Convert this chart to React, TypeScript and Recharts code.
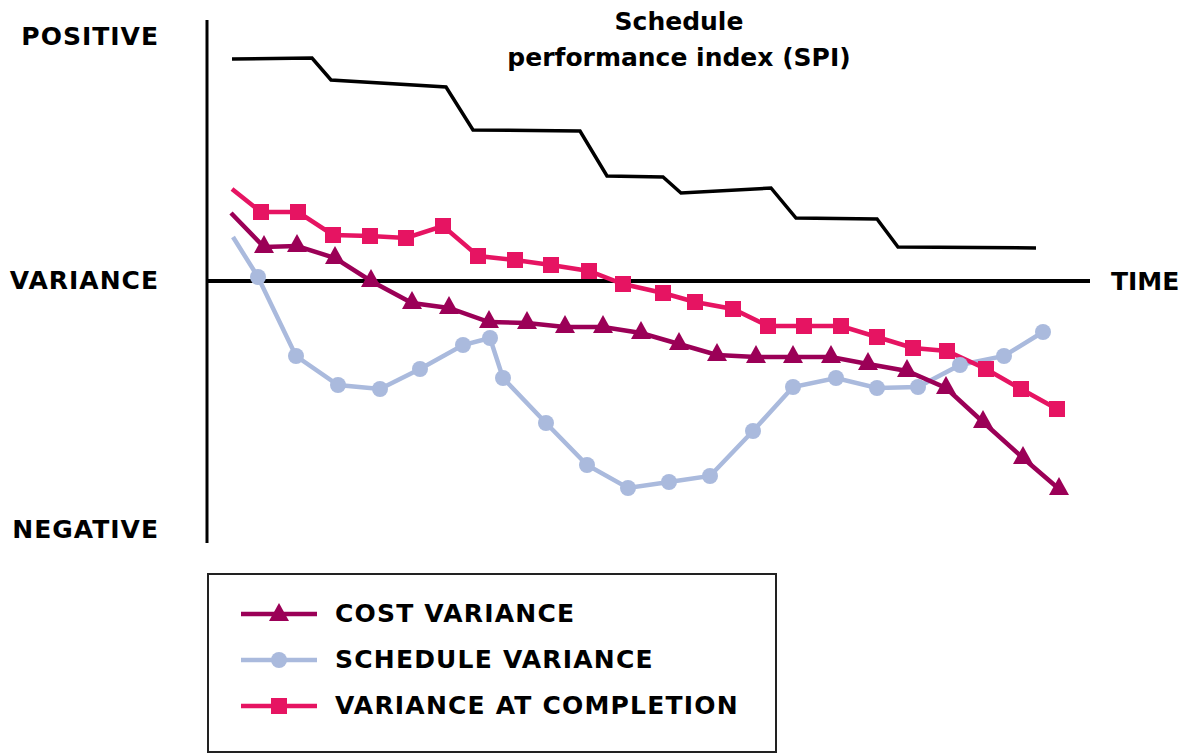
import { ComposedChart, Line, XAxis, YAxis, ReferenceLine } from "recharts";

// time positions (arbitrary units from the origin) and variance readings
const spiTime = [25, 105, 124, 239, 266, 373, 400, 456, 474, 564, 589, 670, 691, 829];
const spiValue = [222, 223, 201, 194, 151, 150, 105, 104, 88, 93, 63, 62, 34, 33];

const cvTime = [24, 57, 90, 128, 164, 205, 242, 282, 320, 358, 396, 434, 472, 510, 549, 586, 624, 661, 700, 739, 776, 816, 852];
const cvValue = [68, 34, 35, 23, 0, -22, -27, -41, -42, -46, -46, -52, -63, -74, -76, -76, -76, -83, -90, -107, -141, -177, -208];

const svTime = [26, 51, 89, 131, 173, 213, 256, 283, 296, 339, 380, 421, 462, 503, 546, 586, 629, 670, 711, 753, 797, 836];
const svValue = [44, 4, -75, -104, -108, -88, -64, -57, -97, -142, -184, -207, -201, -195, -150, -106, -97, -107, -106, -84, -75, -51];

const vacTime = [25, 54, 91, 126, 163, 199, 236, 271, 308, 344, 382, 416, 456, 488, 526, 561, 597, 634, 670, 706, 740, 779, 814, 850];
const vacValue = [92, 69, 69, 46, 45, 43, 55, 25, 21, 16, 10, -3, -12, -21, -28, -45, -45, -45, -56, -67, -70, -88, -108, -128];

const yTicks = [245, 1, -248];
const yTickLabels: Record<number, string> = { 245: "POSITIVE", 1: "VARIANCE", [-248]: "NEGATIVE" };

const CV_COLOR = "#9b0057";
const SV_COLOR = "#aabadd";
const VAC_COLOR = "#e61462";
const FONT = "'DejaVu Sans', 'Open Sans', sans-serif";

const spiData = spiTime.map((t, i) => ({ t, v: spiValue[i] }));
const cvData = cvTime.map((t, i) => ({ t, v: cvValue[i] }));
const svData = svTime.map((t, i) => ({ t, v: svValue[i] }));
const vacData = vacTime.map((t, i) => ({ t, v: vacValue[i] }));

function TriangleDot(props: any) {
  const { cx, cy, index } = props;
  if (index === 0 || cx == null) return <g key={`cv-${index}`} />;
  return (
    <polygon
      key={`cv-${index}`}
      points={`${cx},${cy - 12} ${cx - 10},${cy + 6} ${cx + 10},${cy + 6}`}
      fill={CV_COLOR}
    />
  );
}

function CircleDot(props: any) {
  const { cx, cy, index } = props;
  if (index === 0 || cx == null) return <g key={`sv-${index}`} />;
  return <circle key={`sv-${index}`} cx={cx} cy={cy} r={8} fill={SV_COLOR} />;
}

function SquareDot(props: any) {
  const { cx, cy, index } = props;
  if (index === 0 || cx == null) return <g key={`vac-${index}`} />;
  return <rect key={`vac-${index}`} x={cx - 8} y={cy - 8} width={16} height={16} fill={VAC_COLOR} />;
}

const legendItems = [
  { label: "COST VARIANCE", color: CV_COLOR, shape: "triangle" },
  { label: "SCHEDULE VARIANCE", color: SV_COLOR, shape: "circle" },
  { label: "VARIANCE AT COMPLETION", color: VAC_COLOR, shape: "square" },
];

function LegendSymbol({ color, shape }: { color: string; shape: string }) {
  return (
    <svg width={80} height={24} style={{ display: "block" }}>
      <line x1={2} y1={12} x2={78} y2={12} stroke={color} strokeWidth={4.5} />
      {shape === "triangle" && <polygon points="40,1 30,19 50,19" fill={color} />}
      {shape === "circle" && <circle cx={40} cy={12} r={8} fill={color} />}
      {shape === "square" && <rect x={32} y={4} width={16} height={16} fill={color} />}
    </svg>
  );
}

export default function App() {
  return (
    <div style={{ position: "absolute", left: 0, top: 0, width: 1190, height: 753, background: "#fff", fontFamily: FONT }}>
      <ComposedChart width={1190} height={753} margin={{ top: 20, right: 100, bottom: 210, left: 0 }}>
        <XAxis dataKey="t" type="number" domain={[0, 883]} hide allowDataOverflow />
        <YAxis
          type="number"
          domain={[-262, 261]}
          ticks={yTicks}
          width={207}
          tickLine={false}
          tickSize={0}
          tickMargin={48}
          interval={0}
          axisLine={{ stroke: "#000", strokeWidth: 3 }}
          tickFormatter={(v: number) => yTickLabels[v] ?? ""}
          tick={{ fill: "#000", fontSize: 25, fontWeight: 700, fontFamily: FONT, letterSpacing: 1 }}
          allowDataOverflow
        />
        <ReferenceLine
          y={0}
          stroke="#000"
          strokeWidth={4}
          label={{ value: "TIME", position: "right", offset: 21, fill: "#000", fontSize: 25, fontWeight: 700, fontFamily: FONT }}
        />
        <Line data={spiData} dataKey="v" type="linear" stroke="#000" strokeWidth={3.5} dot={false} activeDot={false} isAnimationActive={false} />
        <Line data={svData} dataKey="v" type="linear" stroke={SV_COLOR} strokeWidth={4.5} dot={CircleDot} activeDot={false} isAnimationActive={false} />
        <Line data={cvData} dataKey="v" type="linear" stroke={CV_COLOR} strokeWidth={4.5} dot={TriangleDot} activeDot={false} isAnimationActive={false} />
        <Line data={vacData} dataKey="v" type="linear" stroke={VAC_COLOR} strokeWidth={4.5} dot={SquareDot} activeDot={false} isAnimationActive={false} />
      </ComposedChart>

      <div
        style={{
          position: "absolute",
          left: 429,
          top: 4,
          width: 500,
          textAlign: "center",
          fontSize: 25,
          fontWeight: 700,
          lineHeight: "36px",
          color: "#000",
        }}
      >
        Schedule
        <br />
        performance index (SPI)
      </div>

      <div
        style={{
          position: "absolute",
          left: 207,
          top: 573,
          width: 566,
          height: 176,
          border: "2px solid #222",
          background: "#fff",
        }}
      >
        {legendItems.map((item, i) => (
          <div
            key={item.label}
            style={{ position: "absolute", left: 30, top: 27 + i * 46, display: "flex", alignItems: "center", height: 24 }}
          >
            <LegendSymbol color={item.color} shape={item.shape} />
            <span style={{ marginLeft: 16, fontSize: 25, fontWeight: 700, color: "#000", lineHeight: "24px", letterSpacing: 1.2 }}>
              {item.label}
            </span>
          </div>
        ))}
      </div>
    </div>
  );
}
